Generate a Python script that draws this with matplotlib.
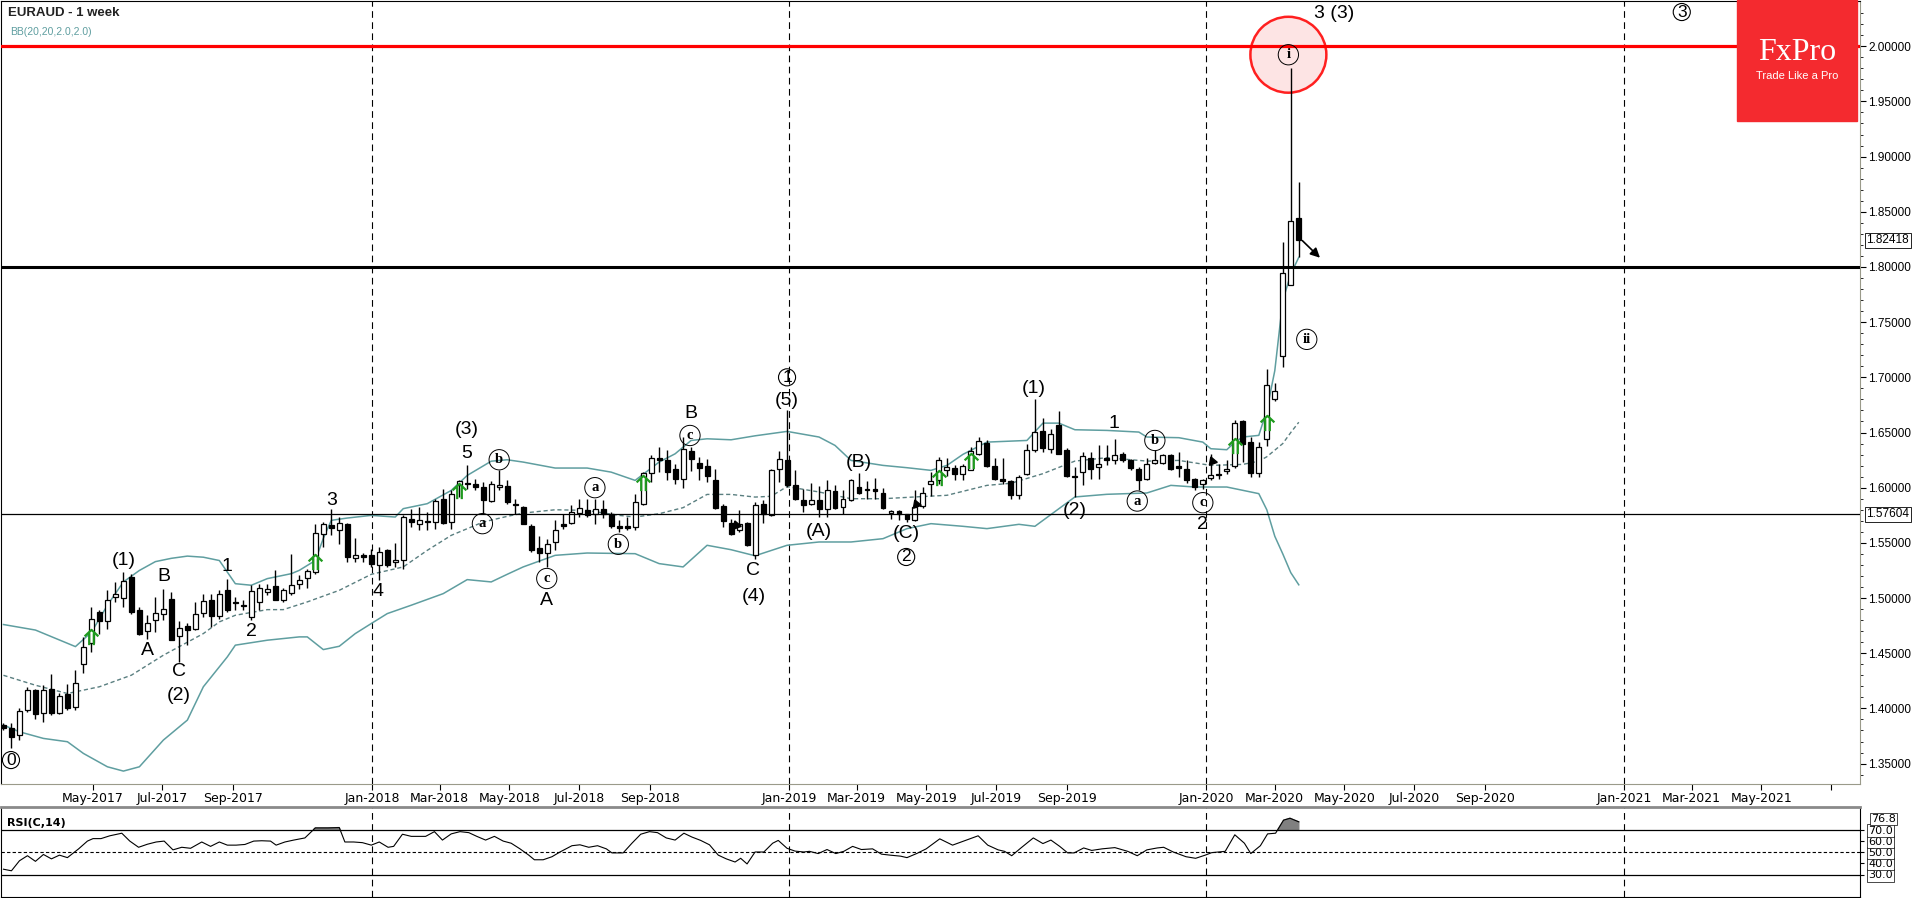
import numpy as np
import matplotlib
matplotlib.use('Agg')
import matplotlib.pyplot as plt
import matplotlib.transforms as mtransforms
from matplotlib.patches import Rectangle, Ellipse
from matplotlib.path import Path
from matplotlib import font_manager

# --- fonts ---
_names = {f.name for f in font_manager.fontManager.ttflist}
NARROW = 'Liberation Sans Narrow' if 'Liberation Sans Narrow' in _names else 'DejaVu Sans'
SANS = 'Liberation Sans'
SERIF = 'Liberation Serif'

# --- weekly EURAUD candles (week 0 = week of 12 Feb 2017) ---
opens = [1.3849, 1.3818, 1.3758, 1.3984, 1.4165, 1.3954, 1.4180, 1.3960, 1.4135, 1.4009,
         1.4401, 1.4597, 1.4874, 1.4793, 1.5010, 1.5004, 1.5191, 1.4889, 1.4699, 1.4805,
         1.4859, 1.4995, 1.4654, 1.4745, 1.4724, 1.4868, 1.4986, 1.4835, 1.5070, 1.4960,
         1.4935, 1.4829, 1.4965, 1.5055, 1.5107, 1.4986, 1.5046, 1.5125, 1.5185, 1.5236,
         1.5583, 1.5665, 1.5619, 1.5674, 1.5366, 1.5387, 1.5387, 1.5297, 1.5432, 1.5327,
         1.5342, 1.5719, 1.5674, 1.5698, 1.5689, 1.5900, 1.5689, 1.6021, 1.6042, 1.6030,
         1.6006, 1.5876, 1.6006, 1.6012, 1.5855, 1.5825, 1.5650, 1.5456, 1.5408, 1.5508,
         1.5668, 1.5680, 1.5773, 1.5800, 1.5764, 1.5803, 1.5764, 1.5650, 1.5650, 1.5644,
         1.5855, 1.6132, 1.6271, 1.6247, 1.6172, 1.6081, 1.6331, 1.6226, 1.6193, 1.6072,
         1.5837, 1.5683, 1.5613, 1.5683, 1.5388, 1.5855, 1.5750, 1.6172, 1.6247, 1.6027,
         1.5891, 1.5855, 1.5891, 1.5810, 1.5970, 1.5825, 1.5885, 1.6006, 1.5976, 1.5991,
         1.5952, 1.5770, 1.5789, 1.5759, 1.5710, 1.5831, 1.6036, 1.6066, 1.6163, 1.6181,
         1.6121, 1.6163, 1.6308, 1.6404, 1.6196, 1.6081, 1.6057, 1.5931, 1.6121, 1.6338,
         1.6513, 1.6353, 1.6564, 1.6344, 1.6109, 1.6142, 1.6272, 1.6187, 1.6266, 1.6254,
         1.6308, 1.6253, 1.6166, 1.6081, 1.6226, 1.6223, 1.6293, 1.6193, 1.6172, 1.6075,
         1.6030, 1.6091, 1.6127, 1.6151, 1.6193, 1.6600, 1.6413, 1.6132, 1.6444, 1.6807,
         1.7197, 1.7840, 1.8443]
highs = [1.3870, 1.3864, 1.4000, 1.4195, 1.4180, 1.4211, 1.4316, 1.4141, 1.4220, 1.4346,
         1.4648, 1.4920, 1.4889, 1.5070, 1.5146, 1.5236, 1.5221, 1.4920, 1.4844, 1.5010,
         1.5086, 1.5055, 1.4790, 1.4775, 1.4965, 1.5040, 1.5040, 1.5070, 1.5176, 1.5010,
         1.4986, 1.5116, 1.5131, 1.5125, 1.5251, 1.5095, 1.5402, 1.5206, 1.5266, 1.5674,
         1.5689, 1.5810, 1.5734, 1.5680, 1.5547, 1.5408, 1.5447, 1.5462, 1.5447, 1.5499,
         1.5749, 1.5810, 1.5825, 1.5779, 1.5900, 1.5991, 1.5975, 1.6066, 1.6202, 1.6081,
         1.6051, 1.6060, 1.6162, 1.6066, 1.5900, 1.5831, 1.5674, 1.5559, 1.5538, 1.5704,
         1.5764, 1.5840, 1.5900, 1.5894, 1.5900, 1.5885, 1.5779, 1.5704, 1.5734, 1.5945,
         1.6141, 1.6292, 1.6368, 1.6338, 1.6217, 1.6458, 1.6368, 1.6277, 1.6262, 1.6172,
         1.5849, 1.5719, 1.5800, 1.5689, 1.5870, 1.5885, 1.6172, 1.6329, 1.6700, 1.6163,
         1.5991, 1.6042, 1.6012, 1.6072, 1.6021, 1.5976, 1.6081, 1.6133, 1.6060, 1.6090,
         1.6000, 1.5801, 1.5795, 1.5765, 1.5976, 1.6006, 1.6142, 1.6278, 1.6272, 1.6202,
         1.6211, 1.6368, 1.6459, 1.6428, 1.6272, 1.6272, 1.6066, 1.6112, 1.6392, 1.6806,
         1.6634, 1.6534, 1.6694, 1.6362, 1.6187, 1.6323, 1.6323, 1.6383, 1.6383, 1.6444,
         1.6323, 1.6262, 1.6187, 1.6272, 1.6338, 1.6308, 1.6308, 1.6323, 1.6247, 1.6091,
         1.6081, 1.6308, 1.6211, 1.6247, 1.6609, 1.6609, 1.6458, 1.6413, 1.7076, 1.6946,
         1.8223, 1.9807, 1.8766]
lows = [1.3800, 1.3638, 1.3713, 1.3969, 1.3900, 1.3879, 1.3939, 1.3948, 1.3990, 1.3984,
        1.4322, 1.4512, 1.4678, 1.4724, 1.4965, 1.4920, 1.4859, 1.4663, 1.4633, 1.4693,
        1.4799, 1.4618, 1.4422, 1.4573, 1.4708, 1.4829, 1.4739, 1.4814, 1.4874, 1.4889,
        1.4889, 1.4799, 1.4889, 1.5025, 1.4980, 1.4965, 1.5025, 1.5085, 1.5095, 1.5221,
        1.5463, 1.5568, 1.5487, 1.5327, 1.5327, 1.5327, 1.5282, 1.5161, 1.5281, 1.5281,
        1.5266, 1.5644, 1.5619, 1.5613, 1.5628, 1.5674, 1.5628, 1.5915, 1.5991, 1.5975,
        1.5764, 1.5870, 1.5975, 1.5855, 1.5764, 1.5668, 1.5417, 1.5327, 1.5282, 1.5432,
        1.5628, 1.5668, 1.5734, 1.5734, 1.5668, 1.5728, 1.5638, 1.5598, 1.5613, 1.5613,
        1.5840, 1.6051, 1.6141, 1.6066, 1.6036, 1.6000, 1.6150, 1.6066, 1.6051, 1.5810,
        1.5644, 1.5568, 1.5598, 1.5469, 1.5357, 1.5680, 1.5741, 1.6051, 1.6006, 1.5891,
        1.5780, 1.5840, 1.5734, 1.5734, 1.5810, 1.5759, 1.5879, 1.5946, 1.5900, 1.5900,
        1.5810, 1.5719, 1.5705, 1.5689, 1.5698, 1.5819, 1.5921, 1.6036, 1.6103, 1.6066,
        1.6072, 1.6157, 1.6293, 1.6187, 1.6066, 1.6036, 1.5900, 1.5900, 1.6112, 1.6323,
        1.6323, 1.6314, 1.6302, 1.6097, 1.5915, 1.6021, 1.6081, 1.6081, 1.6202, 1.6217,
        1.6232, 1.6157, 1.5976, 1.6066, 1.6217, 1.6211, 1.6157, 1.6097, 1.6042, 1.5982,
        1.5991, 1.6066, 1.6081, 1.6127, 1.6181, 1.6230, 1.6096, 1.6096, 1.6374, 1.6790,
        1.7091, 1.7840, 1.8087]
closes = [1.3819, 1.3743, 1.3978, 1.4165, 1.3945, 1.4171, 1.3960, 1.4111, 1.4000, 1.4226,
          1.4552, 1.4814, 1.4793, 1.4986, 1.5040, 1.5152, 1.4874, 1.4678, 1.4778, 1.4868,
          1.4905, 1.4618, 1.4730, 1.4714, 1.4853, 1.4974, 1.4835, 1.5034, 1.4895, 1.4955,
          1.4932, 1.5064, 1.5094, 1.5085, 1.4980, 1.5076, 1.5121, 1.5167, 1.5242, 1.5592,
          1.5674, 1.5638, 1.5683, 1.5372, 1.5393, 1.5372, 1.5306, 1.5417, 1.5297, 1.5348,
          1.5734, 1.5689, 1.5704, 1.5689, 1.5876, 1.5683, 1.5939, 1.6057, 1.6030, 1.6006,
          1.5885, 1.6030, 1.6021, 1.5870, 1.5846, 1.5674, 1.5432, 1.5408, 1.5493, 1.5614,
          1.5656, 1.5779, 1.5818, 1.5749, 1.5810, 1.5758, 1.5650, 1.5638, 1.5638, 1.5870,
          1.6132, 1.6271, 1.6247, 1.6141, 1.6081, 1.6353, 1.6262, 1.6181, 1.6102, 1.5819,
          1.5698, 1.5577, 1.5668, 1.5484, 1.5840, 1.5765, 1.6157, 1.6262, 1.6021, 1.5900,
          1.5840, 1.5891, 1.5810, 1.5982, 1.5819, 1.5900, 1.6066, 1.5952, 1.5991, 1.5970,
          1.5819, 1.5789, 1.5765, 1.5719, 1.5825, 1.5952, 1.6060, 1.6247, 1.6187, 1.6121,
          1.6196, 1.6329, 1.6422, 1.6196, 1.6081, 1.6060, 1.5931, 1.6097, 1.6344, 1.6504,
          1.6362, 1.6489, 1.6308, 1.6103, 1.6097, 1.6284, 1.6166, 1.6217, 1.6254, 1.6293,
          1.6247, 1.6181, 1.6066, 1.6217, 1.6253, 1.6293, 1.6166, 1.6181, 1.6066, 1.6006,
          1.6066, 1.6118, 1.6118, 1.6166, 1.6588, 1.6400, 1.6132, 1.6367, 1.6934, 1.6876,
          1.7942, 1.8419, 1.8242]

# Bollinger bands (20, 2.0)
bb_up_w = [0, 4, 9, 11, 13, 15, 17, 19, 21, 23, 25, 27, 29, 31, 33, 36, 37, 39, 40, 41,
           43, 46, 49, 50, 53, 56, 58, 61, 63, 65, 69, 73, 76, 79, 82, 84, 86, 88, 91,
           94, 96, 98, 102, 104, 106, 110, 113, 116, 118, 120, 123, 125, 128, 130, 132,
           134, 138, 142, 143, 147, 150, 151, 153, 154, 155, 157, 158, 159, 160, 161, 162]
bb_up = [1.476, 1.471, 1.456, 1.469, 1.4935, 1.5146, 1.525, 1.533, 1.536, 1.538, 1.537,
         1.534, 1.513, 1.5116, 1.5176, 1.5221, 1.5251, 1.534, 1.554, 1.5704, 1.5725,
         1.5749, 1.5734, 1.581, 1.5855, 1.5975, 1.6111, 1.624, 1.6253, 1.6232, 1.6178,
         1.6178, 1.6141, 1.6066, 1.6232, 1.6307, 1.6428, 1.6443, 1.6434, 1.647, 1.649,
         1.651, 1.6459, 1.6383, 1.6247, 1.6202, 1.6181, 1.6157, 1.6202, 1.6302, 1.6413,
         1.6419, 1.6428, 1.6585, 1.6585, 1.6525, 1.6519, 1.6504, 1.6459, 1.6453, 1.6413,
         1.6353, 1.6344, 1.6413, 1.6459, 1.6474, 1.670, 1.706, 1.7695, 1.7936, 1.8087]
bb_mid_w = [0, 4, 8, 12, 16, 20, 25, 27, 29, 33, 35, 38, 42, 46, 50, 53, 56, 60, 63, 65,
            69, 73, 77, 79, 82, 85, 88, 91, 94, 96, 98, 102, 106, 110, 114, 118, 123,
            126, 130, 134, 138, 143, 147, 151, 155, 157, 158, 159, 160, 161, 162]
bb_mid = [1.430, 1.421, 1.4135, 1.4196, 1.4301, 1.4482, 1.4678, 1.4784, 1.4844, 1.4895,
          1.4895, 1.4965, 1.5070, 1.5215, 1.5282, 1.5432, 1.5568, 1.5689, 1.574, 1.577,
          1.580, 1.5794, 1.5749, 1.5734, 1.5764, 1.5819, 1.5939, 1.5939, 1.5915, 1.5922,
          1.6010, 1.5961, 1.5900, 1.5900, 1.5916, 1.5931, 1.6021, 1.6040, 1.6127, 1.6241,
          1.6272, 1.6241, 1.6247, 1.6202, 1.6211, 1.6240, 1.628, 1.634, 1.640, 1.650, 1.6593]
bb_lo_w = [0, 2, 5, 8, 10, 13, 15, 17, 20, 23, 25, 28, 29, 33, 37, 38, 40, 42, 44, 46,
           48, 51, 55, 58, 61, 63, 65, 69, 73, 79, 82, 85, 88, 91, 94, 98, 102, 106, 110,
           113, 116, 120, 123, 127, 129, 134, 138, 143, 146, 149, 153, 157, 158, 159, 160,
           161, 162]
bb_lo = [1.3849, 1.3788, 1.3728, 1.3698, 1.3592, 1.3471, 1.3432, 1.3471, 1.3713, 1.3894,
         1.4196, 1.4467, 1.4573, 1.4618, 1.4648, 1.4648, 1.4533, 1.4563, 1.4678, 1.4769,
         1.4859, 1.4935, 1.5040, 1.5167, 1.5146, 1.5215, 1.5282, 1.5387, 1.5408, 1.5402,
         1.5312, 1.5282, 1.5478, 1.5438, 1.5383, 1.5478, 1.5508, 1.5508, 1.5538, 1.5629,
         1.5674, 1.5650, 1.5629, 1.5668, 1.5650, 1.5916, 1.5940, 1.5952, 1.6021, 1.6006,
         1.6006, 1.5946, 1.580, 1.556, 1.540, 1.523, 1.512]

# RSI(14)
rsi_w = [0, 1, 2, 3, 4, 5, 6, 7, 8, 9.4, 10.5, 11.2, 12.2, 13.3, 14.8, 15.8, 16.9, 18,
         19.1, 20.1, 21.2, 22.3, 23.4, 24.8, 25.9, 27, 28, 29.1, 30.2, 31.3, 32.3, 33.4,
         34.1, 35.2, 36.3, 37.7, 39, 40.6, 42, 42.7, 43.8, 44.9, 46, 47, 48.1, 48.8, 49.9,
         51, 52.8, 53.9, 54.9, 56, 57.1, 58.2, 59.2, 60.3, 61.4, 62.5, 63.5, 64.6, 65.7,
         66.4, 67.5, 68.6, 69.6, 71.1, 72.1, 73.2, 74.3, 75.4, 76.1, 77.5, 78.6, 79.7,
         80.8, 81.8, 82.9, 84, 85.1, 86.1, 87.2, 88.3, 89.4, 90.4, 91.5, 92.2, 93, 94,
         95.1, 96.2, 96.9, 98, 99, 100.1, 100.8, 101.9, 103, 104.1, 105.1, 106.2, 107.3,
         108.7, 109.8, 110.9, 112.2, 113, 114.2, 115.4, 117.1, 118.7, 120.3, 121.9, 123.1,
         124.4, 125.2, 126.1, 127.2, 128.8, 130, 131, 132.1, 133.1, 133.9, 135.1, 136.1,
         137.4, 139, 140.6, 141.8, 143, 144.3, 145.1, 146.3, 147.9, 149.1, 150.3, 151.1,
         152.8, 154, 155.2, 156, 157.2, 158.1, 159.1, 160.1, 160.9, 162]
rsi_v = [34.7, 33.3, 42.2, 46.7, 41.7, 47.8, 43.9, 47.2, 45.0, 52.8, 59.7, 61.9, 61.9, 64.4,
         66.7, 59.7, 54.2, 56.9, 58.9, 59.7, 51.9, 54.2, 53.3, 58.9, 55.0, 58.9, 56.1, 56.1,
         56.7, 59.7, 60.0, 59.7, 56.1, 58.9, 60.6, 62.5, 71.4, 71.4, 71.7, 58.9, 58.9, 58.3,
         56.1, 58.9, 54.2, 55.0, 65.8, 63.9, 63.9, 68.1, 60.6, 66.1, 68.1, 67.2, 63.9, 60.6,
         63.9, 59.7, 57.8, 52.8, 47.2, 43.1, 43.1, 45.8, 50.0, 55.6, 56.4, 54.2, 55.6, 52.8,
         49.2, 49.2, 57.8, 65.8, 68.1, 67.2, 62.5, 60.6, 66.7, 63.3, 60.3, 56.4, 47.2, 43.9,
         41.1, 44.4, 39.4, 50.0, 50.0, 57.8, 60.3, 53.3, 50.8, 50.0, 50.6, 48.6, 52.2, 48.6,
         50.6, 55.0, 52.2, 52.8, 48.1, 47.2, 46.3, 45.0, 48.6, 52.8, 61.7, 56.1, 60.3, 64.4,
         56.1, 51.9, 50.6, 46.7, 53.3, 62.5, 57.5, 60.6, 55.0, 49.2, 49.2, 53.6, 51.4, 52.8,
         53.9, 50.6, 46.7, 51.9, 53.6, 54.2, 50.0, 45.8, 44.4, 47.2, 49.4, 50.6, 65.3, 57.8,
         48.6, 55.6, 66.1, 66.7, 78.3, 80.0, 76.8]

# x-axis months
start = np.datetime64('2017-02-12')
tick_dates = ['2017-05-01', '2017-07-01', '2017-09-01', '2018-01-01', '2018-03-01',
              '2018-05-01', '2018-07-01', '2018-09-01', '2019-01-01', '2019-03-01',
              '2019-05-01', '2019-07-01', '2019-09-01', '2020-01-01', '2020-03-01',
              '2020-05-01', '2020-07-01', '2020-09-01', '2021-01-01', '2021-03-01',
              '2021-05-01', '2021-07-01']
tick_labels = ['May-2017', 'Jul-2017', 'Sep-2017', 'Jan-2018', 'Mar-2018', 'May-2018',
               'Jul-2018', 'Sep-2018', 'Jan-2019', 'Mar-2019', 'May-2019', 'Jul-2019',
               'Sep-2019', 'Jan-2020', 'Mar-2020', 'May-2020', 'Jul-2020', 'Sep-2020',
               'Jan-2021', 'Mar-2021', 'May-2021', '']
year_starts = ['2018-01-01', '2019-01-01', '2020-01-01', '2021-01-01']

# Elliott wave labels: (text, week, price, style)
wave_labels = [
    ('(1)', 15.05, 1.5342, 'p'), ('A', 18.0, 1.4528, 'p'), ('B', 20.05, 1.5191, 'p'),
    ('C', 21.9, 1.4331, 'p'), ('(2)', 21.9, 1.412, 'p'), ('1', 27.95, 1.529, 'p'),
    ('2', 31.0, 1.4693, 'p'), ('3', 41.0, 1.5885, 'p'), ('4', 46.9, 1.5055, 'p'),
    ('(3)', 57.9, 1.6525, 'p'), ('5', 57.9, 1.6308, 'p'), ('A', 67.95, 1.498, 'p'),
    ('B', 85.96, 1.667, 'p'), ('C', 93.8, 1.5252, 'p'), ('(4)', 93.8, 1.501, 'p'),
    ('(5)', 98.0, 1.679, 'p'), ('(A)', 102.0, 1.5607, 'p'), ('(B)', 107.0, 1.6232, 'p'),
    ('(C)', 112.9, 1.5584, 'p'), ('(1)', 128.9, 1.6896, 'p'), ('(2)', 134.0, 1.5795, 'p'),
    ('1', 138.9, 1.658, 'p'), ('2', 150.0, 1.5668, 'p'), ('3 (3)', 166.4, 2.030, 'p'),
    ('0', 0.94, 1.3532, 'cd'), ('1', 98.0, 1.7000, 'cd'), ('2', 112.9, 1.5372, 'cd'),
    ('3', 209.9, 2.031, 'cd'),
    ('b', 62.0, 1.6253, 'cl'), ('a', 59.9, 1.5674, 'cl'), ('a', 73.97, 1.600, 'cl'),
    ('c', 67.95, 1.5177, 'cl'), ('b', 76.9, 1.5487, 'cl'), ('c', 85.86, 1.6473, 'cl'),
    ('b', 144.0, 1.6428, 'cl'), ('a', 141.8, 1.5879, 'cl'), ('c', 150.0, 1.5864, 'cl'),
    ('i', 160.7, 1.9923, 'cl'), ('ii', 163.0, 1.7344, 'cl'),
]
signal_up = [(11, 1.4648), (39, 1.5327), (57, 1.597), (80, 1.6042), (117, 1.609),
             (121, 1.6241), (154, 1.6374), (158, 1.6585)]
signal_tri = [(91.6, 1.566), (114.1, 1.585), (151.2, 1.624)]

# --- figure ---
W, H = 1918, 898
fig = plt.figure(figsize=(W / 100, H / 100), dpi=100)
fig.patch.set_facecolor('white')

ax = fig.add_axes([0.0005, (H - 784) / H, 1860 / W - 0.0005, 783 / H])
axr = fig.add_axes([0.0005, 1 / H, 1860 / W - 0.0005, 90 / H])

x = np.arange(len(opens))
o, h, l, c = map(np.array, (opens, highs, lows, closes))
up = c >= o
body_lo = np.minimum(o, c)
body_h = np.maximum(np.abs(c - o), 0.0003)

ax.vlines(x, l, h, color='black', lw=1, zorder=3)
ax.bar(x[up], body_h[up], bottom=body_lo[up], width=0.62, color='white',
       edgecolor='black', linewidth=0.9, zorder=4)
ax.bar(x[~up], body_h[~up], bottom=body_lo[~up], width=0.62, color='black',
       edgecolor='black', linewidth=0.9, zorder=4)

# Bollinger bands
ax.plot(bb_up_w, bb_up, color='#5f9ea0', lw=1.1, zorder=2)
ax.plot(bb_lo_w, bb_lo, color='#5f9ea0', lw=1.1, zorder=2)
ax.plot(bb_mid_w, bb_mid, color='#5a7f80', lw=1.0, ls=(0, (3, 2)), zorder=2)

# horizontal levels
ax.axhline(2.0, color='#ff0000', lw=2.3, zorder=5)
ax.axhline(1.80, color='black', lw=2.2, zorder=5)
ax.axhline(1.57604, color='black', lw=0.9, zorder=5)

# year separators
for d in year_starts:
    xv = (np.datetime64(d) - start).astype(int) / 7
    for a in (ax, axr):
        a.axvline(xv, color='black', lw=0.8, ls=(0, (6, 4)), zorder=1)

# red circle around wave i
ax.add_patch(Ellipse((160.7, 1.9923), 9.5, 0.0688, facecolor='#fde4e4',
                     edgecolor='#ff2020', lw=1.8, zorder=2))

# wave labels
for txt, wx, wy, st in wave_labels:
    if st == 'p':
        ax.text(wx, wy, txt, fontsize=14, family=SANS, ha='center', va='center', zorder=6)
    elif st == 'cd':
        ax.text(wx, wy, txt, fontsize=12.5, family=SANS, ha='center', va='center', zorder=6,
                bbox=dict(boxstyle='circle,pad=0.06', fc='none', ec='black', lw=0.8))
    else:
        ax.text(wx, wy, txt, fontsize=10.5, family=SERIF, fontweight='bold', ha='center',
                va='center', zorder=6,
                bbox=dict(boxstyle='circle,pad=0.25', fc='none', ec='black', lw=0.7))

# green "buy" arrows (double-shaft up arrow)
M, L = Path.MOVETO, Path.LINETO
up_arrow = Path([(-0.9, 0.15), (0, 1), (0.9, 0.15), (-0.3, 0.55), (-0.3, -1),
                 (0.3, 0.55), (0.3, -1)], [M, L, L, M, L, M, L])
sx, sy = zip(*signal_up)
ax.plot(sx, sy, ls='none', marker=up_arrow, ms=11, mfc='none', mec='#1e9a1e', mew=1.6,
        zorder=7)
for tx, ty in signal_tri:
    ax.plot(tx, ty, marker=(3, 0, 20), ms=7, color='black', zorder=7)

ax.annotate('', xy=(164.9, 1.8066), xytext=(162.2, 1.8256),
            arrowprops=dict(arrowstyle='-|>', color='black', lw=1.2, mutation_scale=14),
            zorder=7)

# main axis styling
ax.set_xlim(-0.3125, 232.19)
ax.set_ylim(1.3315, 2.041)
ax.yaxis.tick_right()
ax.set_yticks(np.arange(1.35, 2.0001, 0.05))
ax.set_yticks(np.arange(1.34, 2.04, 0.01), minor=True)
ax.yaxis.set_major_formatter(matplotlib.ticker.FormatStrFormatter('%.5f'))
ax.tick_params(axis='y', which='major', direction='out', length=4, labelsize=8.5, pad=2)
ax.tick_params(axis='y', which='minor', direction='out', length=2)
for lbl in ax.get_yticklabels():
    lbl.set_family(SANS)
tick_x = [(np.datetime64(d) - start).astype(int) / 7 for d in tick_dates]
ax.set_xticks(tick_x)
ax.set_xticklabels(tick_labels, family=NARROW, fontsize=9)
ax.tick_params(axis='x', direction='out', length=4, pad=2)
for s in ('left', 'top'):
    ax.spines[s].set_color('black')
ax.spines['right'].set_color('#9a9a8a')
ax.spines['bottom'].set_color('#9a9a8a')

trans = mtransforms.blended_transform_factory(ax.transAxes, ax.transData)
for val in (1.82418, 1.57604):
    ax.text(1.0035, val, f'{val:.5f}', transform=trans, fontsize=8.5, family=SANS,
            va='center', ha='left', zorder=8,
            bbox=dict(boxstyle='square,pad=0.12', fc='white', ec='black', lw=0.6))

ax.text(0.0037, 0.985, 'EURAUD - 1 week', transform=ax.transAxes, fontsize=9.5,
        fontweight='bold', family=SANS, color='#222222', va='center', ha='left')
ax.text(0.0047, 0.961, 'BB(20,20,2.0,2.0)', transform=ax.transAxes, fontsize=7.5,
        family=SANS, color='#5f9ea0', va='center', ha='left')

# RSI panel
rw = np.array(rsi_w)
rv = np.array(rsi_v)
axr.plot(rw, rv, color='black', lw=0.8, zorder=3)
axr.fill_between(rw, rv, 70, where=rv > 70, interpolate=True, color='#808080', zorder=2)
axr.axhline(70, color='black', lw=0.9)
axr.axhline(30, color='black', lw=0.9)
axr.axhline(50, color='black', lw=0.8, ls=(0, (3, 2)))
axr.set_xlim(-0.3125, 232.19)
axr.set_ylim(10, 90)
axr.set_xticks([])
axr.yaxis.tick_right()
axr.set_yticks([30, 40, 50, 60, 70])
axr.set_yticklabels(['30.0', '40.0', '50.0', '60.0', '70.0'], family=NARROW, fontsize=8)
axr.tick_params(axis='y', direction='out', length=3, pad=3)
for lbl in axr.get_yticklabels():
    lbl.set_bbox(dict(boxstyle='square,pad=0.1', fc='white', ec='black', lw=0.5))
rtrans = mtransforms.blended_transform_factory(axr.transAxes, axr.transData)
axr.text(1.006, 79, '76.8', transform=rtrans, fontsize=8, family=NARROW, va='center',
         ha='left', bbox=dict(boxstyle='square,pad=0.1', fc='white', ec='black', lw=0.5))
axr.text(0.0035, 0.82, 'RSI(C,14)', transform=axr.transAxes, fontsize=8,
         fontweight='bold', family=NARROW, va='center', ha='left')
axr.spines['top'].set_color('#8a8a8a')
axr.spines['top'].set_linewidth(2)
axr.spines['right'].set_color('black')

# FxPro logo
fig.add_artist(Rectangle((1737 / W, 1 - 121 / H), 120 / W, 121 / H,
                         transform=fig.transFigure, color='#f42a2f', zorder=10))
fig.text(1797 / W, 1 - 52 / H, 'FxPro', color='white', fontsize=23, family=SERIF,
         ha='center', va='center', zorder=11)
fig.text(1797 / W, 1 - 76 / H, 'Trade Like a Pro', color='white', fontsize=8,
         family=SANS, ha='center', va='center', zorder=11)

fig.savefig('out.png', dpi=100)
